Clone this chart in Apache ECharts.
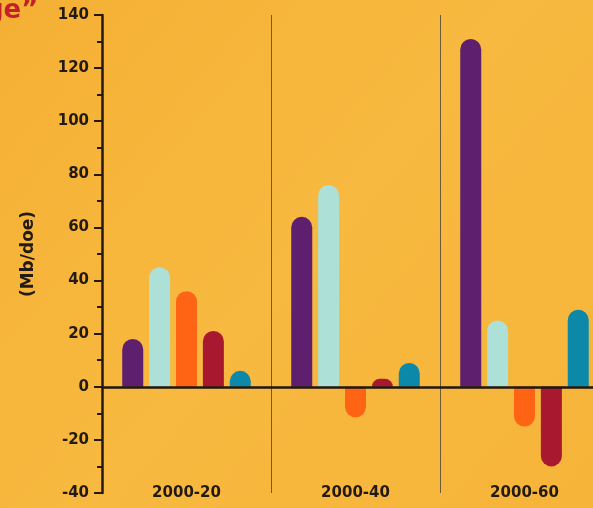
<!DOCTYPE html>
<html><head><meta charset="utf-8">
<script src="https://cdn.jsdelivr.net/npm/echarts@6/dist/echarts.min.js"></script>
<style>html,body{margin:0;padding:0;background:#f6b53b;}#c{width:593px;height:508px;}</style>
</head><body><div id="c"></div>
<script>
const categories = ['2000-20', '2000-40', '2000-60'];
const purple = [18, 64, 131];
const cyan = [45, 76, 25];
const orange = [36, -11.5, -15];
const red = [21, 3, -30];
const teal = [6, 9, 29];
const yTicks = [-40, -20, 0, 20, 40, 60, 80, 100, 120, 140];

const colors = ['#5e1f6e', '#ade0d6', '#ff6414', '#a8182f', '#0c88a8'];
const R = 10.5;
function items(arr) {
  return arr.map(v => ({ value: v, itemStyle: { borderRadius: v >= 0 ? [R, R, 0, 0] : [0, 0, R, R] } }));
}
const seriesData = [purple, cyan, orange, red, teal];
const chart = echarts.init(document.getElementById('c'), null, { renderer: 'canvas' });
const font = '"DejaVu Sans", sans-serif';
chart.setOption({
  backgroundColor: {
    type: 'linear', x: 0, y: 0, x2: 1, y2: 1,
    colorStops: [{ offset: 0, color: '#f4b034' }, { offset: 0.5, color: '#f8b940' }, { offset: 1, color: '#f6b439' }]
  },
  animation: false,
  graphic: [{
    type: 'text', x: -15, y: -2,
    style: { text: 'ge\u201d', fill: '#c4202b', font: 'bold 26px ' + font }
  }],
  grid: { left: 102, top: 15, bottom: 15, width: 507, outerBoundsMode: 'none', containLabel: false },
  xAxis: {
    type: 'category', data: categories,
    axisLine: { show: false }, axisTick: { show: false },
    axisLabel: { margin: -7, color: '#231a14', fontWeight: 'bold', fontSize: 15, fontFamily: font },
    splitLine: { show: true, lineStyle: { color: '#6e5a36', width: 1 } }
  },
  yAxis: {
    type: 'value', min: -40, max: 140, interval: 20,
    name: '(Mb/doe)', nameLocation: 'middle', nameGap: 65, nameRotate: 90,
    nameTextStyle: { color: '#231a14', fontWeight: 'bold', fontSize: 17, fontFamily: font },
    axisLine: { show: true, lineStyle: { color: '#231a14', width: 2.5 } },
    axisTick: { show: true, length: 8, lineStyle: { color: '#231a14', width: 2 } },
    minorTick: { show: true, splitNumber: 2, length: 5, lineStyle: { color: '#231a14', width: 2 } },
    axisLabel: { color: '#231a14', fontWeight: 'bold', fontSize: 15, fontFamily: font, margin: 13,
      formatter: v => yTicks.includes(v) ? String(v) : '' },
    splitLine: { show: false }
  },
  series: seriesData.map((d, i) => ({
    type: 'bar', data: items(d), barWidth: 21, barGap: '28%',
    itemStyle: { color: colors[i] },
    markLine: i === 0 ? {
      silent: true, symbol: 'none', label: { show: false },
      lineStyle: { color: '#1e1612', width: 2.5, type: 'solid' },
      data: [{ yAxis: 0 }]
    } : undefined
  }))
});
</script></body></html>
